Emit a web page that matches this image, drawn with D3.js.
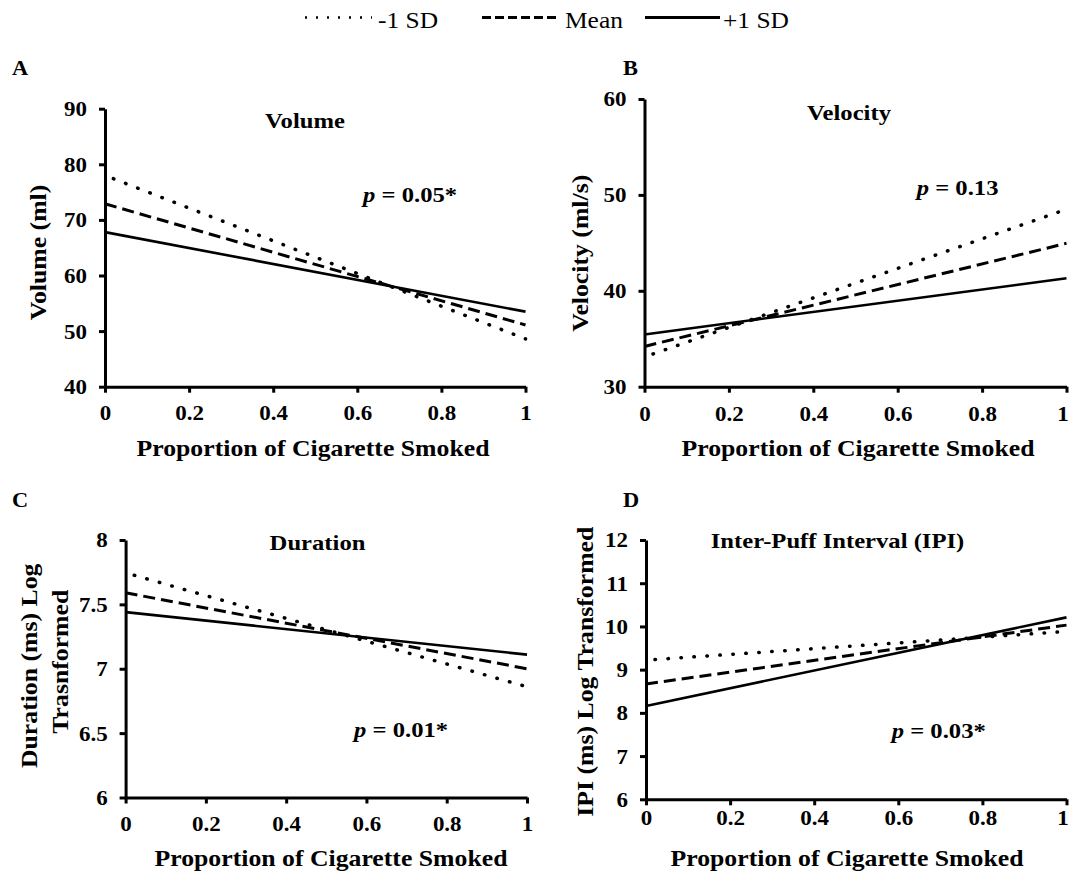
<!DOCTYPE html>
<html>
<head>
<meta charset="utf-8">
<script src="https://cdn.jsdelivr.net/npm/d3@7"></script>
<style>
  body { margin: 0; background: #fff; }
  svg text { font-family: "Liberation Serif", "Times New Roman", serif; fill: #000; }
</style>
</head>
<body>
<svg id="chart" width="1071" height="874"></svg>
<script>
// values (two end points per regression line)
const xPoints = [0, 1];
const xTicks = [0, 0.2, 0.4, 0.6, 0.8, 1];
const seriesNames = ["-1 SD", "Mean", "+1 SD"];

const volumeLow = [78.0, 48.6];
const volumeMean = [72.9, 51.1];
const volumeHigh = [67.8, 53.5];
const volumeTicks = [40, 50, 60, 70, 80, 90];

const velocityLow = [33.1, 48.5];
const velocityMean = [34.2, 44.95];
const velocityHigh = [35.45, 41.3];
const velocityTicks = [30, 40, 50, 60];

const durationLow = [7.745, 6.86];
const durationMean = [7.59, 7.0];
const durationHigh = [7.44, 7.11];
const durationTicks = [6, 6.5, 7, 7.5, 8];

const ipiLow = [9.22, 9.885];
const ipiMean = [8.67, 10.03];
const ipiHigh = [8.16, 10.21];
const ipiTicks = [6, 7, 8, 9, 10, 11, 12];

const sx = 1.12; // the figure's type is a bit wide
const svg = d3.select("#chart");

function label(parent, x, y, str, size, opts = {}) {
  let tr = `translate(${x},${y})`;
  if (opts.rotate) tr += " rotate(-90)";
  tr += ` scale(${sx},1)`;
  let t = parent.append("g").attr("transform", tr).append("text")
    .attr("font-size", size)
    .attr("font-weight", opts.normal ? "normal" : "bold")
    .attr("text-anchor", opts.anchor || "start");
  t.text(str);
  return t;
}

const styles = [
  { dash: "0.5,12.5", width: 3.5, cap: "round", off: -9 },
  { dash: "12,6", width: 3, cap: "butt", off: 0 },
  { dash: null, width: 2.6, cap: "butt", off: 0 }
];

const panels = [
  { letter: "A", lx: 12, ly: 75, title: "Volume", tx: 305, ty: 128, p: "0.05*", px: 363, py: 202,
    ylab: [["Volume (ml)", 46, 252.5]], xlab: [313, 456], tickY: 33.5,
    domain: [40, 90], ticks: volumeTicks, series: [volumeLow, volumeMean, volumeHigh],
    box: [105, 525.5, 108.7, 386.7] },
  { letter: "B", lx: 623, ly: 75, title: "Velocity", tx: 849, ty: 119.5, p: "0.13", px: 916.7, py: 195,
    ylab: [["Velocity (ml/s)", 588, 253.3]], xlab: [858, 456], tickY: 34,
    domain: [30, 60], ticks: velocityTicks, series: [velocityLow, velocityMean, velocityHigh],
    box: [644.5, 1066.5, 99, 386.7] },
  { letter: "C", lx: 12, ly: 506.7, title: "Duration", tx: 317.5, ty: 550, p: "0.01*", px: 354, py: 736.7,
    ylab: [["Duration (ms) Log", 36.5, 665.8], ["Trasnformed", 67.5, 661.7]], xlab: [331, 866], tickY: 34,
    domain: [6, 8], ticks: durationTicks, series: [durationLow, durationMean, durationHigh],
    box: [125.6, 527, 540, 797.5] },
  { letter: "D", lx: 623, ly: 506.7, title: "Inter-Puff Interval (IPI)", tx: 837.5, ty: 548.3, p: "0.03*", px: 891.7, py: 738.3,
    ylab: [["IPI (ms) Log Transformed", 592.5, 671.7]], xlab: [847, 865.5], tickY: 26,
    domain: [6, 12], ticks: ipiTicks, series: [ipiLow, ipiMean, ipiHigh],
    box: [646, 1066.5, 540, 799.3] }
];

panels.forEach(pn => {
  const [x0, x1, y0, y1] = pn.box;
  const x = d3.scaleLinear().domain([0, 1]).range([x0, x1]);
  const y = d3.scaleLinear().domain(pn.domain).range([y1, y0]);
  const g = svg.append("g");

  // regression lines
  const line = d3.line().x(d => x(d[0])).y(d => y(d[1]));
  pn.series.forEach((vals, i) => {
    const st = styles[i];
    g.append("path")
      .datum(xPoints.map((xv, j) => [xv, vals[j]]))
      .attr("d", line)
      .attr("fill", "none")
      .attr("stroke", "#000")
      .attr("stroke-width", st.width)
      .attr("stroke-linecap", st.cap)
      .attr("stroke-dasharray", st.dash)
      .attr("stroke-dashoffset", st.off);
  });

  // axes
  const yAxis = g.append("g").attr("transform", `translate(${x0},0)`)
    .call(d3.axisLeft(y).tickValues(pn.ticks).tickSize(6).tickSizeOuter(0).tickFormat(d3.format("")));
  const xAxis = g.append("g").attr("transform", `translate(0,${y1})`)
    .call(d3.axisBottom(x).tickValues(xTicks).tickSize(6).tickSizeOuter(0).tickFormat(d3.format("")));

  [yAxis, xAxis].forEach(a => {
    a.select(".domain").attr("stroke", "#000").attr("stroke-width", 3);
    a.selectAll(".tick line").attr("stroke", "#000").attr("stroke-width", 3);
    a.selectAll(".tick text")
      .attr("font-family", "Liberation Serif, Times New Roman, serif")
      .attr("font-size", 20.5).attr("font-weight", "bold").attr("fill", "#000");
  });
  yAxis.selectAll(".tick text").attr("x", -18 / sx).attr("dy", "0.34em")
    .attr("transform", `scale(${sx},1)`);
  // the last label sits on the page edge, nudge it in a little
  xAxis.selectAll(".tick text").attr("y", pn.tickY).attr("dy", 0)
    .attr("x", d => d === 1 && x1 > 1000 ? -4 / sx : 0)
    .attr("transform", `scale(${sx},1)`);

  // texts
  label(svg, pn.lx, pn.ly, pn.letter, 20);
  label(svg, pn.tx, pn.ty, pn.title, 22, { anchor: "middle" });
  const pt = label(svg, pn.px, pn.py, "", 22);
  pt.append("tspan").attr("font-style", "italic").text("p");
  pt.append("tspan").text(" = " + pn.p);
  pn.ylab.forEach(([s, bx, cy]) => label(svg, bx, cy, s, 23, { anchor: "middle", rotate: true }));
  label(svg, pn.xlab[0], pn.xlab[1], "Proportion of Cigarette Smoked", 23, { anchor: "middle" });
});

// legend
const legendItems = [
  { x0: 305, x1: 372, tx: 378, dash: "2,9", width: 2.5 },
  { x0: 482, x1: 560, tx: 565, dash: "9,4", width: 3 },
  { x0: 645, x1: 720, tx: 723, dash: null, width: 3 }
];
legendItems.forEach((it, i) => {
  svg.append("line")
    .attr("x1", it.x0).attr("x2", it.x1).attr("y1", 17.5).attr("y2", 17.5)
    .attr("stroke", "#000").attr("stroke-width", it.width)
    .attr("stroke-dasharray", it.dash);
  label(svg, it.tx, 28, seriesNames[i], 22.7, { normal: true });
});
</script>
</body>
</html>
